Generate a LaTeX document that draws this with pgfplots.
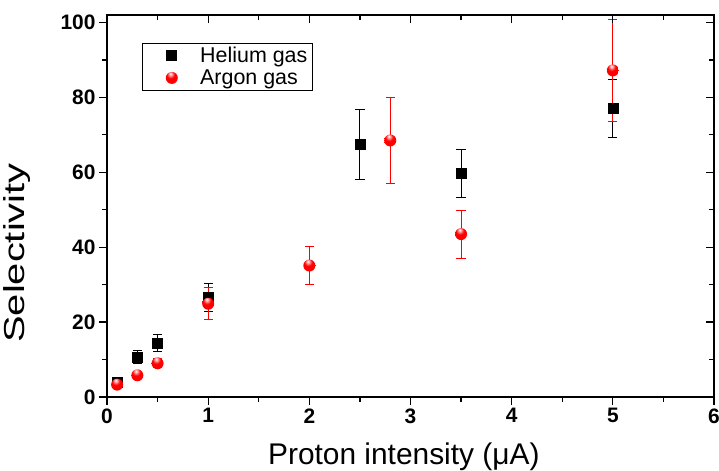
\documentclass[border=0pt]{standalone}
\usepackage{fontspec}
\setmainfont{Liberation Sans}
\usepackage{pgfplots}
\pgfplotsset{compat=1.18}
\usepackage{pgfplotstable}

\pgfplotstableread{
x y e
0.1 4.0 0.5
0.3 10.7 1.8
0.5 14.4 2.2
1 26.6 3.7
2.5 67.5 9.4
3.5 59.7 6.5
5 77.0 7.8
}\helium

\pgfplotstableread{
x y e
0.1 3.3 0.4
0.3 5.8 0.5
0.5 9.0 1.2
1 24.9 4.3
2 35.1 5.1
2.8 68.5 11.6
3.5 43.5 6.4
5 87.2 13.7
}\argon

\newcommand{\legfont}{\fontsize{21.5}{24}\selectfont}

\pgfdeclareradialshading{redball}{\pgfpoint{-6bp}{18bp}}{%
  color(0bp)=(white); color(6bp)=(red!35!white); color(16bp)=(red);
  color(45bp)=(red); color(60bp)=(red!80!black); color(80bp)=(red!70!black)}
\pgfdeclareplotmark{redball}{%
  \pgfpathcircle{\pgfpointorigin}{\pgfplotmarksize}%
  \pgfshadepath{redball}{0}%
  \pgfusepath{}}

\begin{document}
\begin{tikzpicture}
\pgfplotsset{
  commonaxis/.style={
    scale only axis, width=607bp, height=382bp,
    xmin=0, xmax=6, ymin=0, ymax=102,
    xtick={0,1,...,6}, ytick={0,20,...,100},
    minor x tick num=1, minor y tick num=1,
    axis line style={line width=1.3bp},
    tick style={line width=1.3bp, black},
    major tick length=8bp, minor tick length=5bp,
  }
}
\begin{axis}[commonaxis,
  tick align=outside, xtick pos=left, ytick pos=left,
  /pgf/number format/assume math mode=true,
  ticklabel style={font=\fontsize{21}{21}\selectfont\bfseries},
  xlabel={\fontsize{30}{30}\selectfont Proton intensity (μA)},
  ylabel={\scalebox{1.38}[1]{\fontsize{29}{29}\selectfont Selectivity}},
  every axis x label/.style={at={(axis description cs:0.489,0)}, anchor=base, yshift=-67bp},
  every axis y label/.style={at={(axis description cs:-0.1367,0.377)}, rotate=90, anchor=base},
  legend style={at={(axis description cs:0.0577,0.927)}, anchor=north west, draw=black, line width=0.8bp,
    inner xsep=3bp, inner ysep=2bp, row sep=1.5bp},
  legend image code/.code={\path (0bp,0bp) (52bp,0bp); \draw[#1] plot coordinates {(26bp,0bp)};},
  legend cell align=left,
]
\addplot[only marks, mark=square*, mark size=5bp, black,
  error bars/.cd, y dir=both, y explicit,
  error bar style={black, line width=1bp},
  error mark options={rotate=90, mark size=4.6bp, line width=1bp, black}]
  table[x=x, y=y, y error=e]{\helium};
\addlegendentry{\legfont Helium gas}
\addplot[only marks, mark=redball, mark size=6bp, red,
  error bars/.cd, y dir=both, y explicit,
  error bar style={red, line width=1bp},
  error mark options={rotate=90, mark size=4.6bp, line width=1bp, red}]
  table[x=x, y=y, y error=e]{\argon};
\addlegendentry{\legfont Argon gas}
\end{axis}
\begin{axis}[commonaxis,
  tick align=inside, xtick pos=right, ytick pos=right,
  xticklabels={}, yticklabels={}]
\end{axis}
\pgfresetboundingbox
\path[use as bounding box] ([xshift=-107bp,yshift=-74bp]current axis.south west) rectangle ([xshift=5bp,yshift=15bp]current axis.north east);
\end{tikzpicture}
\end{document}
